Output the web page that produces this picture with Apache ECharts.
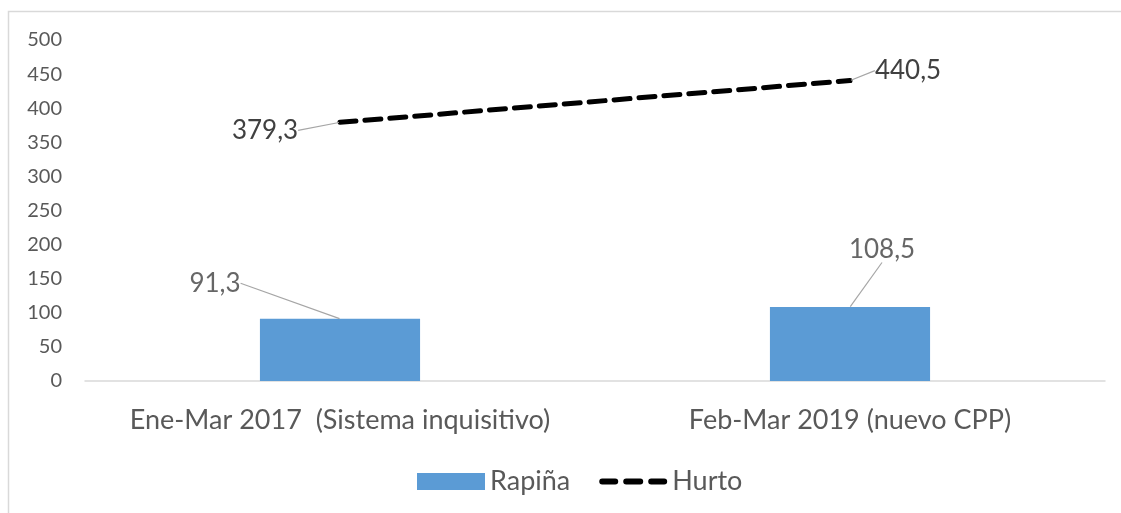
<!DOCTYPE html>
<html>
<head>
<meta charset="utf-8">
<script src="https://cdn.jsdelivr.net/npm/echarts@6/dist/echarts.min.js"></script>
<style>
  html, body { margin: 0; padding: 0; background: #fff; }
  #chart { width: 1121px; height: 513px; }
</style>
</head>
<body>
<div id="chart"></div>
<script>
// datos
const categories = ["Ene-Mar 2017  (Sistema inquisitivo)", "Feb-Mar 2019 (nuevo CPP)"];
const rapina = [91.3, 108.5];
const hurto = [379.3, 440.5];
const yTicks = { min: 0, max: 500, interval: 50 };

// desplazamiento de las etiquetas (con línea guía)
const rapinaLabelShift = [[-125, -17], [32, -39]];
const hurtoLabelShift = [[-75, 27], [58, 9]];

const fmt = v => String(v).replace(".", ",");

// icono de leyenda: tres guiones
const dashIcon = "path://M34,0h0.01v0.01h-0.01Z M34,17h0.01v0.01h-0.01Z " +
  "M3,5.5H16A3,3 0 0 1 16,11.5H3A3,3 0 0 1 3,5.5Z " +
  "M27,5.5H41A3,3 0 0 1 41,11.5H27A3,3 0 0 1 27,5.5Z " +
  "M52,5.5H65A3,3 0 0 1 65,11.5H52A3,3 0 0 1 52,5.5Z";

const myChart = echarts.init(document.getElementById("chart"));

const dataLabel = {
  show: true,
  position: "top",
  fontSize: 26,
  color: "#404040",
  formatter: p => fmt(p.value),
};
const guide = { show: true, lineStyle: { color: "#a6a6a6", width: 1.2 } };

const option = {
  animation: false,
  textStyle: { fontFamily: "Lato" },
  graphic: [
    {
      type: "rect",
      silent: true,
      shape: { x: 8.5, y: 11.5, width: 1200, height: 600 },
      style: { fill: "none", stroke: "#d9d9d9", lineWidth: 1.5 },
    },
  ],
  grid: { left: 85, right: 16, top: 40, bottom: 132 },
  legend: {
    left: 412,
    top: 463,
    itemWidth: 68,
    itemHeight: 17,
    itemGap: 29,
    textStyle: { fontSize: 27, color: "#595959", fontFamily: "Lato" },
    data: [
      { name: "Rapiña", icon: "rect" },
      { name: "Hurto", icon: dashIcon, itemStyle: { color: "#000" } },
    ],
  },
  xAxis: {
    type: "category",
    data: categories,
    axisLine: { lineStyle: { color: "#d9d9d9", width: 1.5 } },
    axisTick: { show: false },
    axisLabel: { color: "#595959", fontSize: 27, margin: 26, interval: 0 },
  },
  yAxis: {
    type: "value",
    min: yTicks.min,
    max: yTicks.max,
    interval: yTicks.interval,
    axisLine: { show: false },
    axisTick: { show: false },
    splitLine: { show: false },
    axisLabel: { color: "#595959", fontSize: 20, margin: 23 },
  },
  series: [
    {
      name: "Rapiña",
      type: "bar",
      data: rapina,
      barWidth: "31.4%",
      itemStyle: { color: "#5b9bd5" },
    },
    {
      // solo las etiquetas de Rapiña, ancladas al centro del borde superior
      name: "Rapiña etiquetas",
      type: "scatter",
      data: rapina,
      symbolSize: 1,
      itemStyle: { color: "transparent" },
      label: dataLabel,
      labelLine: guide,
      labelLayout: p => ({ dx: rapinaLabelShift[p.dataIndex][0], dy: rapinaLabelShift[p.dataIndex][1] }),
      z: 5,
    },
    {
      name: "Hurto",
      type: "line",
      data: hurto,
      showSymbol: true,
      symbol: "circle",
      symbolSize: 2,
      lineStyle: { color: "#000", width: 5, type: [16, 9], cap: "round" },
      itemStyle: { color: "#000" },
      label: dataLabel,
      labelLine: guide,
      labelLayout: p => ({ dx: hurtoLabelShift[p.dataIndex][0], dy: hurtoLabelShift[p.dataIndex][1] }),
    },
  ],
};

myChart.setOption(option);
</script>
</body>
</html>
